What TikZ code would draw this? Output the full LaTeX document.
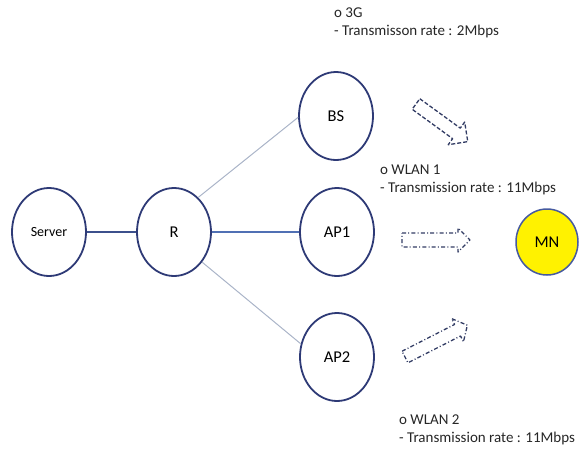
\documentclass[tikz,border=0pt]{standalone}
\usepackage{fontspec}
\setmainfont{Carlito}
\usetikzlibrary{shapes.geometric}

\definecolor{rim}{RGB}{46,58,118}
\definecolor{wire}{RGB}{60,80,140}
\definecolor{wireblue}{RGB}{80,112,180}
\definecolor{wirepale}{RGB}{170,180,200}
\definecolor{mnrim}{RGB}{70,90,160}
\definecolor{arrowline}{RGB}{50,60,100}

\tikzset{
  site/.style={ellipse, draw=rim, line width=1.8pt, minimum width=74pt,
    minimum height=88pt, inner sep=0pt, font=\fontsize{16.5}{18}\selectfont},
  mobile/.style={ellipse, draw=mnrim, line width=1.5pt, fill=yellow,
    minimum width=62pt, minimum height=66pt, inner sep=0pt,
    font=\fontsize{16.5}{18}\selectfont},
  note/.style={anchor=base west, align=left, inner sep=0pt,
    font=\fontsize{15}{17.5}\selectfont, text=black!85},
  hollow/.style={draw=arrowline, line width=1.3pt, line join=round},
  dashonly/.style={hollow, dash pattern=on 4pt off 2pt},
  dashdot/.style={hollow, dash pattern=on 4pt off 2.2pt on 1pt off 2.2pt},
}

\begin{document}
\begin{tikzpicture}[x=1pt, y=-1pt]
\useasboundingbox (0,0) rectangle (582,448);

% network elements
\node[site, font=\fontsize{14}{16}\selectfont] (server) at (49,232) {Server};
\node[site] (r)   at (174,232) {R};
\node[site] (bs)  at (336,116) {BS};
\node[site] (ap1) at (337,232) {AP1};
\node[site] (ap2) at (337,357) {AP2};
\node[mobile] (mn) at (547,242) {MN};

% links
\draw[wire, line width=1.3pt] (server) -- (r);
\draw[wireblue, line width=1.3pt] (r) -- (ap1);
\draw[wirepale, line width=1pt] (r.55) -- (bs.182);
\draw[wirepale, line width=1pt] (r.-47) -- (ap2.160);

% hollow block arrows towards the mobile node
\begin{scope}[shift={(416,104)}, rotate=-36]
  \draw[dashonly] (0,-6.5) -- (50,-6.5) -- (50,-14) -- (64,0) -- (50,14)
    -- (50,6.5) -- (0,6.5) -- cycle;
\end{scope}
\begin{scope}[shift={(402,240)}]
  \draw[dashdot] (0,-7) -- (56,-7) -- (56,-12) -- (68,0) -- (56,12)
    -- (56,7) -- (0,7) -- cycle;
\end{scope}
\begin{scope}[shift={(405,357)}, rotate=27]
  \draw[dashdot] (0,-6.5) -- (59,-6.5) -- (59,-13) -- (70,0) -- (59,13)
    -- (59,6.5) -- (0,6.5) -- cycle;
\end{scope}

% link descriptions (anchored at the baseline of the second line)
\node[note] (n3g) at (334,35) {o 3G\\- Transmisson rate : 2Mbps};
\node[note] (nw1) at (380,192) {o WLAN 1\\- Transmission rate : 11Mbps};
\node[note] (nw2) at (399,442) {o WLAN 2\\- Transmission rate : 11Mbps};
\end{tikzpicture}
\end{document}
